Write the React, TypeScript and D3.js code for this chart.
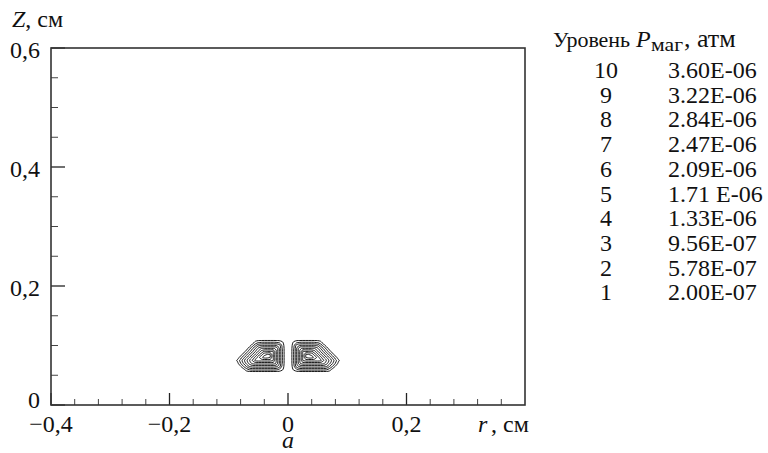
import React from 'react';
import * as d3 from 'd3';

// Legend levels (P_маг, atm)
const levelIds = [10, 9, 8, 7, 6, 5, 4, 3, 2, 1];
const levelLabels = ['3.60E-06', '3.22E-06', '2.84E-06', '2.47E-06', '2.09E-06', '1.71 E-06', '1.33E-06', '9.56E-07', '5.78E-07', '2.00E-07'];
const levelValues = [3.6, 3.22, 2.84, 2.47, 2.09, 1.71, 1.33, 0.956, 0.578, 0.2]; // ×1e-6 atm

// Axis ticks
const xTicks = [-0.4, -0.2, 0, 0.2];
const xTickLabels = ['\u22120,4', '\u22120,2', '0', '0,2'];
const yTicks = [0, 0.2, 0.4, 0.6];
const yTickLabels = ['0', '0,2', '0,4', '0,6'];

// Field grid (right half, r >= 0, step 0.005 cm), mirrored to r < 0. Values ×1e-6 atm
const rNodes = d3.range(20).map((i) => +(i * 0.005).toFixed(3));
const zNodes = [0.045, 0.05, 0.055, 0.06, 0.065, 0.07, 0.075, 0.08, 0.085, 0.09, 0.095, 0.1, 0.105, 0.11, 0.115];
const pGrid = [
  [0, 0, 0, 0, 0, 0, 0, 0, 0, 0, 0, 0, 0, 0, 0, 0, 0, 0, 0, 0],
  [0, 0, 0, 0, 0, 0, 0, 0, 0, 0, 0, 0, 0, 0, 0, 0, 0, 0, 0, 0],
  [0, 0, 0, 0, 0, 0, 0, 0, 0, 0, 0, 0, 0, 0, 0, 0, 0, 0, 0, 0],
  [0, 0, 0.3, 0.6, 0.75, 0.79, 0.79, 0.79, 0.79, 0.79, 0.79, 0.79, 0.79, 0.7, 0.45, 0.1, 0, 0, 0, 0],
  [0, 0, 0.5, 1.2, 1.45, 1.53, 1.53, 1.53, 1.53, 1.53, 1.53, 1.53, 1.5, 1.4, 1.0, 0.6, 0.18, 0, 0, 0],
  [0, 0, 0.62, 1.38, 2.05, 2.27, 2.27, 2.27, 2.27, 2.27, 2.27, 2.27, 2.2, 1.85, 1.44, 1.0, 0.56, 0.11, 0, 0],
  [0, 0, 0.64, 1.38, 2.12, 2.86, 3.01, 3.01, 3.01, 3.01, 3.01, 2.95, 2.51, 2.06, 1.62, 1.18, 0.73, 0.29, 0, 0],
  [0, 0, 0.64, 1.38, 2.12, 2.86, 3.6, 3.75, 3.75, 3.49, 3.04, 2.6, 2.15, 1.71, 1.27, 0.82, 0.38, 0, 0, 0],
  [0, 0, 0.64, 1.38, 2.12, 2.86, 3.6, 3.6, 3.49, 3.04, 2.6, 2.15, 1.71, 1.27, 0.82, 0.38, 0, 0, 0, 0],
  [0, 0, 0.64, 1.38, 2.12, 2.86, 2.86, 2.86, 2.86, 2.6, 2.15, 1.71, 1.27, 0.82, 0.38, 0, 0, 0, 0, 0],
  [0, 0, 0.62, 1.38, 2.05, 2.12, 2.12, 2.12, 2.12, 2.1, 1.8, 1.35, 0.91, 0.47, 0, 0, 0, 0, 0, 0],
  [0, 0, 0.5, 1.2, 1.35, 1.38, 1.38, 1.38, 1.38, 1.35, 1.25, 0.85, 0.42, 0, 0, 0, 0, 0, 0, 0],
  [0, 0, 0.3, 0.55, 0.62, 0.64, 0.64, 0.64, 0.64, 0.62, 0.55, 0.35, 0, 0, 0, 0, 0, 0, 0, 0],
  [0, 0, 0, 0, 0, 0, 0, 0, 0, 0, 0, 0, 0, 0, 0, 0, 0, 0, 0, 0],
  [0, 0, 0, 0, 0, 0, 0, 0, 0, 0, 0, 0, 0, 0, 0, 0, 0, 0, 0, 0],
];

const FONT = '"Liberation Serif", "Times New Roman", serif';
const FS = 24;

export default function App() {
  const W = 768, H = 453;
  const x = d3.scaleLinear().domain([-0.4, 0.4]).range([51, 525]);
  const y = d3.scaleLinear().domain([0, 0.6]).range([405, 48]);

  // mirror grid about r = 0
  const rFull = rNodes.slice(1).map((r) => -r).reverse().concat(rNodes);
  const rowsFull = pGrid.map((row) => row.slice(1).reverse().concat(row));
  const n = rFull.length, m = zNodes.length;
  const flat: number[] = [];
  rowsFull.forEach((row) => row.forEach((v) => flat.push(v)));
  const dr = rFull[1] - rFull[0];
  const dz = zNodes[1] - zNodes[0];
  const thresholds = levelValues.slice().sort((a, b) => a - b);
  const contours = d3.contours().size([n, m]).thresholds(thresholds)(flat);
  const line = d3.line<[number, number]>().curve(d3.curveCatmullRomClosed.alpha(0.5));
  const paths: string[] = [];
  contours.forEach((mp) => {
    mp.coordinates.forEach((poly) => {
      poly.forEach((ring) => {
        const pts = ring.slice(0, -1).map(([gx, gy]) => [
          x(rFull[0] + (gx - 0.5) * dr),
          y(zNodes[0] + (gy - 0.5) * dz),
        ] as [number, number]);
        const d = line(pts);
        if (d) paths.push(d);
      });
    });
  });

  const isMajor = (v: number) => Math.abs(v / 0.2 - Math.round(v / 0.2)) < 1e-6;
  const xMinor = d3.range(-0.4, 0.4001, 0.04).filter((v) => !isMajor(v));
  const yMinor = d3.range(0, 0.6001, 0.05).filter((v) => !isMajor(v));

  const x0 = x.range()[0], x1 = x.range()[1];
  const y0 = y.range()[0], y1 = y.range()[1];

  return (
    <svg width={W} height={H} style={{ position: 'absolute', left: 0, top: 0, background: '#fff' }} fontFamily={FONT} fontSize={FS}>
      <rect x={0} y={0} width={W} height={H} fill="#fff" />
      {/* ticks */}
      {xTicks.map((t) => (
        <line key={'xt' + t} x1={x(t)} x2={x(t)} y1={y0} y2={y0 - 12} stroke="#222" strokeWidth={1.3} />
      ))}
      {xMinor.map((t, i) => (
        <line key={'xm' + i} x1={x(t)} x2={x(t)} y1={y0} y2={y0 - 6} stroke="#444" strokeWidth={1} />
      ))}
      {yTicks.map((t) => (
        <line key={'yt' + t} x1={x0} x2={x0 + 14} y1={y(t)} y2={y(t)} stroke="#222" strokeWidth={1.3} />
      ))}
      {yMinor.map((t, i) => (
        <line key={'ym' + i} x1={x0} x2={x0 + 7} y1={y(t)} y2={y(t)} stroke="#444" strokeWidth={1} />
      ))}
      {/* frame */}
      <rect x={x0} y={y1} width={x1 - x0} height={y0 - y1} fill="none" stroke="#333" strokeWidth={1.6} />
      {/* contours */}
      {paths.map((d, i) => (
        <path key={'c' + i} d={d} fill="none" stroke="#000" strokeWidth={0.9} />
      ))}
      {/* tick labels */}
      {xTicks.map((t, i) => (
        <text key={'xl' + t} x={x(t)} y={432} textAnchor="middle" fill="#111">{xTickLabels[i]}</text>
      ))}
      {yTicks.map((t, i) => (
        <text key={'yl' + t} x={40} y={y(t) + (t === 0 ? 3 : 10)} textAnchor="end" fill="#111">{yTickLabels[i]}</text>
      ))}
      {/* axis titles */}
      <text x={12} y={27} fill="#111"><tspan fontStyle="italic">Z</tspan>, см</text>
      <text x={478} y={432} fill="#111" fontStyle="italic">r</text>
      <text x={491} y={432} fill="#111">, см</text>
      <text x={x(0)} y={448} textAnchor="middle" fontStyle="italic" fill="#111">a</text>
      {/* legend */}
      <text x={553} y={47} fill="#111" fontSize={22} textLength={77}>Уровень</text>
      <text x={636} y={47} fill="#111" fontStyle="italic">P</text>
      <text x={651} y={51} fill="#111" fontSize={19} textLength={32} lengthAdjust="spacingAndGlyphs">маг</text>
      <text x={684} y={47} fill="#111" fontSize={26}>, атм</text>
      {levelIds.map((id, i) => (
        <g key={'lg' + id}>
          <text x={606} y={78 + i * 24.7} textAnchor="middle" fill="#111">{id}</text>
          <text x={668} y={78 + i * 24.7} fill="#111">{levelLabels[i]}</text>
        </g>
      ))}
    </svg>
  );
}
